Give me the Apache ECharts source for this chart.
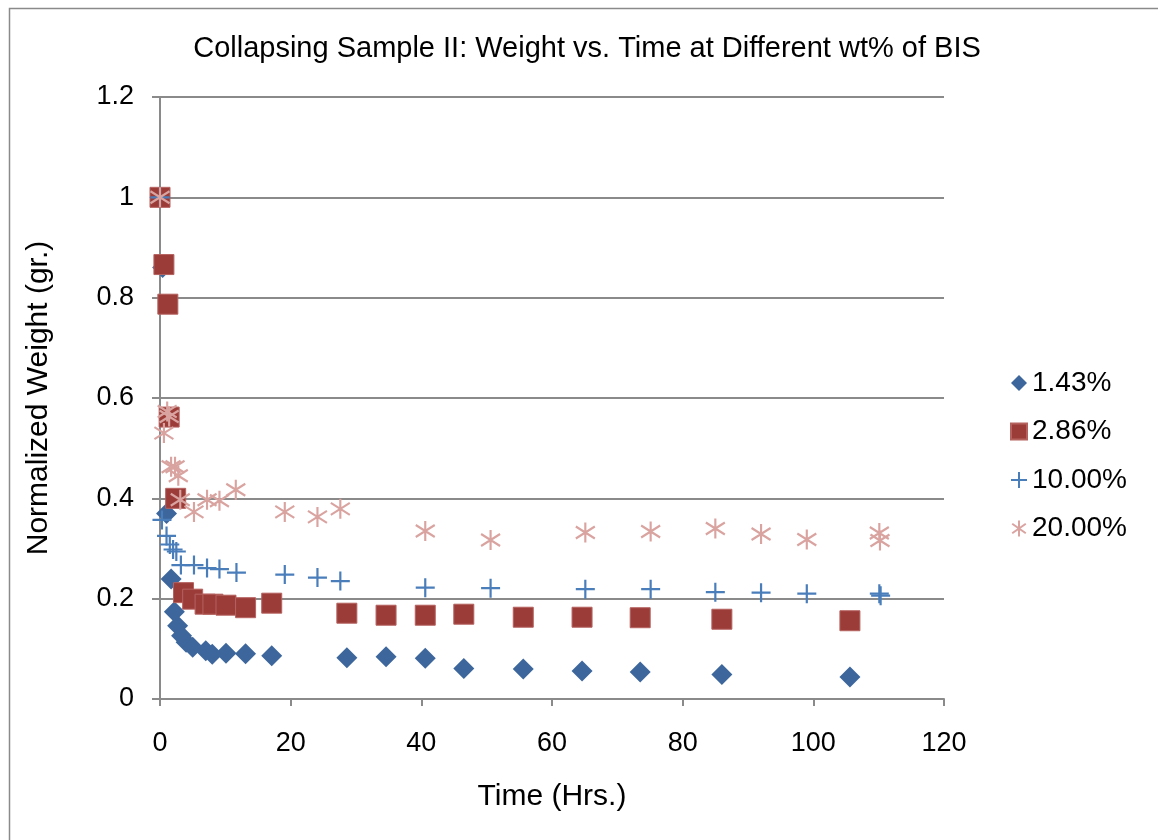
<!DOCTYPE html>
<html>
<head>
<meta charset="utf-8">
<script src="https://cdn.jsdelivr.net/npm/echarts@6/dist/echarts.min.js"></script>
<style>
  html, body { margin: 0; padding: 0; background: #ffffff; }
  #chart { width: 1158px; height: 840px; }
</style>
</head>
<body>
<div id="chart"></div>
<script>
// ---- Data ----
const seriesNames = ['1.43%', '2.86%', '10.00%', '20.00%'];

const t143 = [0, 0.4, 1.0, 1.7, 2.2, 2.7, 3.3, 4.0, 5.0, 7.0, 8.0, 10.1, 13.1, 17.1, 28.6, 34.6, 40.6, 46.5, 55.6, 64.6, 73.5, 86.0, 105.6];
const w143 = [1.0, 0.86, 0.37, 0.239, 0.174, 0.146, 0.126, 0.113, 0.103, 0.096, 0.089, 0.091, 0.090, 0.086, 0.082, 0.084, 0.081, 0.061, 0.060, 0.056, 0.054, 0.049, 0.044];

const t286 = [0, 0.6, 1.2, 1.4, 2.4, 3.6, 5.0, 6.9, 8.1, 10.1, 13.1, 17.1, 28.6, 34.6, 40.6, 46.5, 55.6, 64.6, 73.5, 86.0, 105.6];
const w286 = [1.0, 0.866, 0.787, 0.562, 0.40, 0.212, 0.199, 0.189, 0.189, 0.187, 0.182, 0.191, 0.171, 0.167, 0.167, 0.169, 0.163, 0.163, 0.162, 0.159, 0.156];

const t1000 = [0, 0.3, 1.0, 1.5, 2.0, 2.5, 3.2, 5.2, 7.2, 9.1, 11.7, 19.1, 24.1, 27.6, 40.6, 50.6, 65.1, 75.1, 85.0, 92.0, 99.0, 110.1, 110.3];
const w1000 = [1.0, 0.357, 0.325, 0.308, 0.298, 0.294, 0.267, 0.267, 0.261, 0.259, 0.252, 0.248, 0.242, 0.235, 0.222, 0.221, 0.219, 0.219, 0.213, 0.212, 0.210, 0.210, 0.206];

const t2000 = [0, 0.6, 1.1, 1.4, 1.7, 2.3, 2.8, 3.1, 5.2, 7.2, 9.1, 11.6, 19.1, 24.1, 27.6, 40.6, 50.6, 65.1, 75.1, 85.0, 92.0, 99.0, 110.1, 110.2];
const w2000 = [1.0, 0.53, 0.573, 0.563, 0.463, 0.463, 0.445, 0.397, 0.373, 0.397, 0.395, 0.417, 0.373, 0.363, 0.379, 0.335, 0.317, 0.332, 0.334, 0.340, 0.329, 0.318, 0.331, 0.316];

const titleText = 'Collapsing Sample II: Weight vs. Time at Different wt% of BIS';
const xName = 'Time (Hrs.)';
const yName = 'Normalized Weight (gr.)';

function pairs(xs, ys) { return xs.map((x, i) => [x, ys[i]]); }

const FONT = 'Liberation Sans, Arial, sans-serif';
const GRIDC = '#8a8a8a';
const PLUS = 'path://M0,-10L0,10M-10,0L10,0';
const STAR = 'path://M0,-10L0,10M-8.5,-6L8.5,6M-8.5,6L8.5,-6';

const chart = echarts.init(document.getElementById('chart'), null, { renderer: 'canvas' });
chart.setOption({
  backgroundColor: '#ffffff',
  animation: false,
  graphic: [{
    type: 'rect', left: 7, top: 6, silent: true,
    shape: { x: 0, y: 0, width: 1170, height: 860 },
    style: { fill: 'none', stroke: '#8a8a8a', lineWidth: 1.5 }
  }],
  title: {
    text: titleText, left: 582, textAlign: 'center', top: 29,
    textStyle: { fontFamily: FONT, fontSize: 29, fontWeight: 'normal', color: '#000' }
  },
  grid: { left: 160, right: 214, top: 97, bottom: 141 },
  legend: {
    orient: 'vertical', left: 1005, top: 362,
    itemWidth: 16, itemHeight: 16, itemGap: 16.5,
    data: seriesNames,
    textStyle: { fontFamily: FONT, fontSize: 28, color: '#000', lineHeight: 32, padding: [0, 0, 0, 0] }
  },
  xAxis: {
    type: 'value', min: 0, max: 120, interval: 20,
    name: xName, nameLocation: 'middle', nameGap: 83,
    nameTextStyle: { fontFamily: FONT, fontSize: 30, color: '#000' },
    axisLine: { show: true, onZero: false, lineStyle: { color: GRIDC, width: 2 } },
    axisTick: { show: true, length: 7, lineStyle: { color: GRIDC, width: 2 } },
    axisLabel: { fontFamily: FONT, fontSize: 27, color: '#000', margin: 31 },
    splitLine: { show: false }
  },
  yAxis: {
    type: 'value', min: 0, max: 1.2, interval: 0.2,
    name: yName, nameLocation: 'middle', nameGap: 106, nameRotate: 90,
    nameTextStyle: { fontFamily: FONT, fontSize: 30, color: '#000' },
    axisLine: { show: true, lineStyle: { color: GRIDC, width: 2 } },
    axisTick: { show: true, length: 8, lineStyle: { color: GRIDC, width: 2 } },
    axisLabel: { fontFamily: FONT, fontSize: 27, color: '#000', margin: 26 },
    splitLine: { show: true, lineStyle: { color: GRIDC, width: 2 } }
  },
  series: [
    {
      name: seriesNames[0], type: 'scatter', symbol: 'diamond', symbolSize: 21,
      itemStyle: { color: '#3D679C', opacity: 1 },
      data: pairs(t143, w143)
    },
    {
      name: seriesNames[1], type: 'scatter', symbol: 'rect', symbolSize: 20,
      itemStyle: { color: '#9B3C39', borderColor: '#B5625F', borderWidth: 1, opacity: 1 },
      data: pairs(t286, w286)
    },
    {
      name: seriesNames[2], type: 'scatter', symbol: PLUS, symbolSize: 19,
      itemStyle: { color: '#4A7EBB', borderColor: '#4A7EBB', borderWidth: 2.2, opacity: 1 },
      data: pairs(t1000, w1000)
    },
    {
      name: seriesNames[3], type: 'scatter', symbol: STAR, symbolSize: [19, 20],
      itemStyle: { color: '#D9A3A0', borderColor: '#D9A3A0', borderWidth: 2.2, opacity: 1 },
      data: pairs(t2000, w2000)
    }
  ]
});
</script>
</body>
</html>
